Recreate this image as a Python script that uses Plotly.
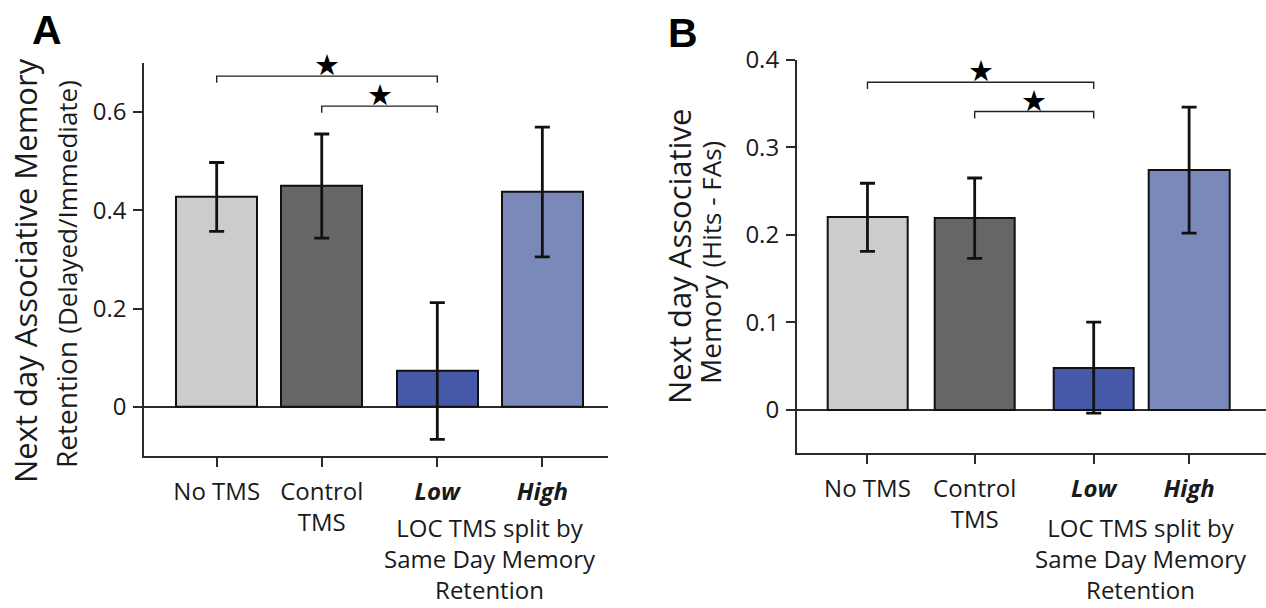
import plotly.graph_objects as go

# ---------------- data ----------------
categories = ["No TMS", "Control TMS", "Low", "High"]
tick_text = ["No TMS", "Control<br>TMS", "<b><i>Low</i></b>", "<b><i>High</i></b>"]
bar_colors = ["#cccccc", "#666666", "#4559a8", "#7a89b9"]

retention_mean = [0.427, 0.449, 0.073, 0.437]
retention_sem = [0.070, 0.106, 0.139, 0.132]

hits_fa_mean = [0.220, 0.219, 0.048, 0.274]
hits_fa_sem = [0.039, 0.046, 0.052, 0.072]

a_tick_vals = [0, 0.2, 0.4, 0.6]
a_tick_text = ["0", "0.2", "0.4", "0.6"]
b_tick_vals = [0, 0.1, 0.2, 0.3, 0.4]
b_tick_text = ["0", "0.1", "0.2", "0.3", "0.4"]

comparisons = [(0, 2), (1, 2)]   # significant pairs (index into categories)
sig_label = "★"

# ---------------- layout helpers ----------------
W, H = 1266, 608
FONT = "Open Sans"
TXT = "#1a1a1a"
AX = "#2a2a2a"

slots_a = [0, 1, 2.1, 3.1]
slots_b = [0, 1, 2.11, 3.0]
bar_w_a = 0.767
bar_w_b = 0.75


def px(x):
    return x / W


def py(y):
    return 1 - y / H


fig = go.Figure()


def add_panel(slots, means, sems, bw, xa, ya):
    fig.add_trace(go.Bar(
        x=slots, y=means, width=bw,
        marker=dict(color=bar_colors, line=dict(color="#111111", width=2)),
        error_y=dict(type="data", array=sems, visible=True, color="#111111",
                     thickness=2.8, width=7.5),
        xaxis=xa, yaxis=ya, showlegend=False, hoverinfo="skip",
    ))


add_panel(slots_a, retention_mean, retention_sem, bar_w_a, "x", "y")
add_panel(slots_b, hits_fa_mean, hits_fa_sem, bar_w_b, "x2", "y2")

shapes = []
annotations = []


def add_brackets(slots, xref, yref, levels, leg, star_off):
    for (i, j), lvl in zip(comparisons, levels):
        x0, x1 = slots[i], slots[j]
        shapes.append(dict(
            type="path", xref=xref, yref=yref,
            path=f"M {x0},{lvl - leg} L {x0},{lvl} L {x1},{lvl} L {x1},{lvl - leg}",
            line=dict(color="#222222", width=1.4),
        ))
        annotations.append(dict(
            x=(x0 + x1) / 2, y=lvl + star_off, xref=xref, yref=yref,
            text=sig_label, showarrow=False, xanchor="center", yanchor="middle",
            font=dict(family="DejaVu Sans", size=29, color="#000000"),
        ))


add_brackets(slots_a, "x", "y", [0.6726, 0.6116], 0.0135, 0.023)
add_brackets(slots_b, "x2", "y2", [0.3746, 0.341], 0.0078, 0.0125)

# LOC group label
for slots, xref in ((slots_a, "x"), (slots_b, "x2")):
    annotations.append(dict(
        x=(slots[2] + slots[3]) / 2, y=py(607.5), xref=xref, yref="paper",
        text="LOC TMS split by<br>Same Day Memory<br>Retention",
        showarrow=False, xanchor="center", yanchor="bottom", align="center",
        font=dict(family=FONT, size=24, color=TXT),
    ))

# y-axis titles
ytitles = [
    ("Next day Associative Memory", 31, 25, 271),
    ("Retention <span style='font-size:26px'>(Delayed/Immediate)</span>", 28, 66, 274),
    ("Next day Associative", 31, 679, 257),
    ("Memory <span style='font-size:26px'>(Hits - FAs)</span>", 28, 710, 263),
]
for text, size, x, y in ytitles:
    annotations.append(dict(
        x=px(x), y=py(y), xref="paper", yref="paper", text=text, textangle=-90,
        showarrow=False, xanchor="center", yanchor="middle",
        font=dict(family=FONT, size=size, color=TXT),
    ))

# panel letters
for letter, x, y in (("A", 47, 30), ("B", 683, 33)):
    annotations.append(dict(
        x=px(x), y=py(y), xref="paper", yref="paper", text=f"<b>{letter}</b>",
        showarrow=False, xanchor="center", yanchor="middle",
        font=dict(family="Liberation Sans", size=41, color="#000000"),
    ))

common_x = dict(
    showline=True, linecolor=AX, linewidth=1.5, ticks="outside", ticklen=9,
    tickwidth=1.5, tickcolor=AX, showgrid=False, zeroline=False,
    tickfont=dict(family=FONT, size=24, color=TXT), ticklabelstandoff=4,
    automargin=False, fixedrange=True,
)
common_y = dict(
    showline=True, linecolor=AX, linewidth=1.5, ticks="outside", ticklen=9,
    tickwidth=1.5, tickcolor=AX, showgrid=False, zeroline=True,
    zerolinecolor=AX, zerolinewidth=1.5,
    tickfont=dict(family=FONT, size=24, color=TXT), ticklabelstandoff=2,
    automargin=False, fixedrange=True,
)

fig.update_layout(
    width=W, height=H,
    margin=dict(l=0, r=0, t=0, b=0, autoexpand=False),
    paper_bgcolor="white", plot_bgcolor="white",
    bargap=0,
    xaxis=dict(domain=[px(144), px(608)], range=[-0.692, 3.725], anchor="y",
               tickvals=slots_a, ticktext=tick_text, **common_x),
    yaxis=dict(domain=[py(456), py(62.7)], range=[-0.1, 0.7], anchor="x",
               tickvals=a_tick_vals, ticktext=a_tick_text, **common_y),
    xaxis2=dict(domain=[px(796.7), 1.0], range=[-0.66, 3.717], anchor="y2",
                tickvals=slots_b, ticktext=tick_text, **common_x),
    yaxis2=dict(domain=[py(453.3), py(60)], range=[-0.05, 0.4], anchor="x2",
                tickvals=b_tick_vals, ticktext=b_tick_text, **common_y),
    shapes=shapes,
    annotations=annotations,
)

fig.write_html("out.html", config={"displayModeBar": False})
